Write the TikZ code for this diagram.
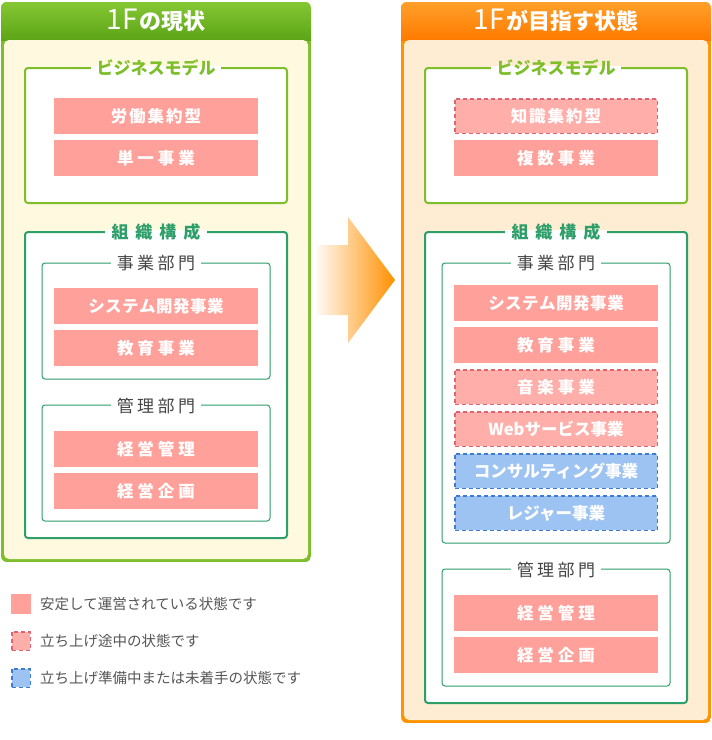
\documentclass[tikz,border=0pt]{standalone}
\usepackage{fontspec}
\setmainfont{Noto Sans CJK JP}
\usetikzlibrary{calc}
\definecolor{pinkS}{HTML}{FFA09A}
\definecolor{pinkD}{HTML}{FFAEA9}
\definecolor{pinkB}{HTML}{DD6470}
\definecolor{blueF}{HTML}{9DC3F2}
\definecolor{blueB}{HTML}{3D7CD0}
\definecolor{bmgreen}{HTML}{7DBE2A}
\definecolor{orggreen}{HTML}{2E9E6A}
\definecolor{hdgreenA}{HTML}{86C734}
\definecolor{hdgreenB}{HTML}{5BA516}
\definecolor{creamL}{HTML}{FFF9DF}
\definecolor{creamR}{HTML}{FFEDD3}
\definecolor{orA}{HTML}{FFA02A}
\definecolor{orB}{HTML}{FF7A00}
\definecolor{orBorder}{HTML}{FF9300}
\definecolor{arrowOr}{HTML}{FF9000}
\definecolor{txtgray}{HTML}{444444}
\definecolor{leggray}{HTML}{555555}
\tikzset{
  item/.style={minimum width=204pt, minimum height=36pt, inner sep=0pt, text=white,
    font=\fontsize{16.5}{16.5}\selectfont\bfseries},
  solidItem/.style={item, fill=pinkS},
  wipItem/.style={item, minimum width=202.5pt, minimum height=34.5pt, fill=pinkD, draw=pinkB,
    line width=1.5pt, dash pattern=on 4pt off 3pt},
  planItem/.style={item, minimum width=202.5pt, minimum height=34.5pt, fill=blueF, draw=blueB,
    line width=1.5pt, dash pattern=on 4pt off 3pt},
  frameBox/.style={rounded corners=3pt, fill=white, inner sep=0pt},
  bmFrame/.style={frameBox, draw=bmgreen, line width=2pt, minimum width=262pt, minimum height=135pt},
  orgFrame/.style={frameBox, draw=orggreen, line width=2pt, minimum width=262pt},
  deptFrame/.style={frameBox, draw=orggreen, line width=1pt, minimum width=228pt},
  bmTitle/.style={text=bmgreen, font=\fontsize{17}{17}\selectfont\bfseries, inner xsep=5pt, inner ysep=0pt},
  orgTitle/.style={text=orggreen, font=\fontsize{17}{17}\selectfont\bfseries, inner xsep=6pt, inner ysep=0pt},
  deptTitle/.style={text=txtgray, font=\fontsize{17}{17}\selectfont, inner xsep=6pt, inner ysep=0pt},
  headText/.style={text=white, font=\fontsize{22}{22}\selectfont\bfseries, inner sep=0pt},
  legBox/.style={minimum size=20pt, inner sep=0pt},
  legText/.style={text=leggray, font=\fontsize{14.5}{14.5}\selectfont, anchor=west, inner sep=0pt}
}
\begin{document}
\begin{tikzpicture}[x=1pt,y=-1pt]
\useasboundingbox (0,0) rectangle (712,740);
\fill[white] (0,0) rectangle (712,740);

% ---------- left panel ----------
\begin{scope}
\clip[rounded corners=6pt] (1,2) rectangle (311,562);
\fill[bmgreen] (1,2) rectangle (311,562);
\shade[top color=hdgreenA, bottom color=hdgreenB] (1,2) rectangle (311,40);
\end{scope}
\fill[creamL, rounded corners=5pt] (4,40) rectangle (308,559);
\node[headText] (hL) at (156,20) {{\fontsize{28}{28}\selectfont\mdseries 1F}\kern2pt の現状};

% ---------- right panel ----------
\begin{scope}
\clip[rounded corners=6pt] (401,2) rectangle (711,723);
\fill[orBorder] (401,2) rectangle (711,723);
\shade[top color=orA, bottom color=orB] (401,2) rectangle (711,40);
\end{scope}
\fill[creamR, rounded corners=5pt] (404,40) rectangle (708,720);
\node[headText] (hR) at (556,20) {{\fontsize{28}{28}\selectfont\mdseries 1F}\kern2pt が目指す状態};

% ---------- arrow ----------
\shade[left color=arrowOr!4, middle color=arrowOr!55, right color=arrowOr]
  (316,245) -- (348,245) -- (348,217) -- (395,280) -- (348,343) -- (348,315) -- (316,315) -- cycle;

% ---------- left frames ----------
\node[bmFrame] (bmL) at (156,135.5) {};
\node[orgFrame, minimum height=306pt] (orgL) at (156,385) {};
\node[deptFrame, minimum height=116pt] (deptL) at (156,321) {};
\node[deptFrame, minimum height=116pt] (admL) at (156,463) {};

% ---------- right frames ----------
\node[bmFrame] (bmR) at (556,135.5) {};
\node[orgFrame, minimum height=471pt] (orgR) at (556,467.5) {};
\node[deptFrame, minimum height=280pt] (deptR) at (556,403) {};
\node[deptFrame, minimum height=117pt] (admR) at (556,627.5) {};

% ---------- titles ----------
\foreach \f/\s/\t in {bmL/bmTitle/ビジネスモデル, bmR/bmTitle/ビジネスモデル,
   orgL/orgTitle/{組\kern7pt 織\kern7pt 構\kern7pt 成}, orgR/orgTitle/{組\kern7pt 織\kern7pt 構\kern7pt 成},
   deptL/deptTitle/{事\kern3.5pt 業\kern3.5pt 部\kern3.5pt 門}, deptR/deptTitle/{事\kern3.5pt 業\kern3.5pt 部\kern3.5pt 門},
   admL/deptTitle/{管\kern3.5pt 理\kern3.5pt 部\kern3.5pt 門}, admR/deptTitle/{管\kern3.5pt 理\kern3.5pt 部\kern3.5pt 門}}{
  \node[\s, opacity=0] (\f-t0) at ($(\f.north)+(0,1)$) {\t};
  \fill[white] ($(\f-t0.west)+(0,-1.6)$) rectangle ($(\f-t0.east)+(0,1.6)$);
  \node[\s] (\f-t) at ($(\f.north)+(0,1)$) {\t};
}

% ---------- left items ----------
\node[solidItem] (l1) at (156,116) {労\kern2pt 働\kern2pt 集\kern2pt 約\kern2pt 型};
\node[solidItem] (l2) at (156,158) {単\kern4pt 一\kern4pt 事\kern4pt 業};
\node[solidItem] (l3) at (156,306) {シ\kern0.5pt ス\kern0.5pt テ\kern0.5pt ム\kern0.5pt 開\kern0.5pt 発\kern0.5pt 事\kern0.5pt 業};
\node[solidItem] (l4) at (156,348) {教\kern4pt 育\kern4pt 事\kern4pt 業};
\node[solidItem] (l5) at (156,449) {経\kern4pt 営\kern4pt 管\kern4pt 理};
\node[solidItem] (l6) at (156,491) {経\kern4pt 営\kern4pt 企\kern4pt 画};

% ---------- right items ----------
\node[wipItem]   (r1) at (556,116) {知\kern2pt 識\kern2pt 集\kern2pt 約\kern2pt 型};
\node[solidItem] (r2) at (556,158) {複\kern4pt 数\kern4pt 事\kern4pt 業};
\node[solidItem] (r3) at (556,303) {シ\kern0.5pt ス\kern0.5pt テ\kern0.5pt ム\kern0.5pt 開\kern0.5pt 発\kern0.5pt 事\kern0.5pt 業};
\node[solidItem] (r4) at (556,345) {教\kern4pt 育\kern4pt 事\kern4pt 業};
\node[wipItem]   (r5) at (556,387) {音\kern4pt 楽\kern4pt 事\kern4pt 業};
\node[wipItem]   (r6) at (556,429) {Webサービス事業};
\node[planItem]  (r7) at (556,471) {コンサルティング事業};
\node[planItem]  (r8) at (556,513) {レジャー事業};
\node[solidItem] (r9) at (556,613) {経\kern4pt 営\kern4pt 管\kern4pt 理};
\node[solidItem] (r10) at (556,655) {経\kern4pt 営\kern4pt 企\kern4pt 画};

% ---------- legend ----------
\node[legBox, fill=pinkS] (g1) at (21,604) {};
\node[legBox, minimum size=18.5pt, fill=pinkD, draw=pinkB, line width=1.5pt, dash pattern=on 4pt off 3pt] (g2) at (21,641) {};
\node[legBox, minimum size=18.5pt, fill=blueF, draw=blueB, line width=1.5pt, dash pattern=on 4pt off 3pt] (g3) at (21,678) {};
\node[legText] (t1) at (40,604) {安定して運営されている状態です};
\node[legText] (t2) at (40,641) {立ち上げ途中の状態です};
\node[legText] (t3) at (40,678) {立ち上げ準備中または未着手の状態です};
\end{tikzpicture}
\end{document}
